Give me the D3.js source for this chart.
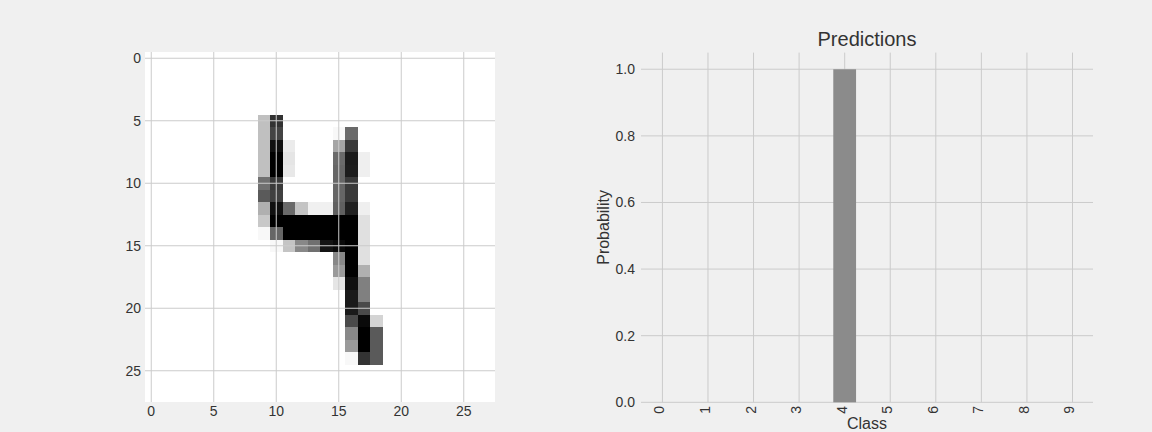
<!DOCTYPE html>
<html>
<head>
<meta charset="utf-8">
<script src="https://cdn.jsdelivr.net/npm/d3@7"></script>
<style>
  html, body { margin: 0; padding: 0; background: #f0f0f0; }
  svg { display: block; font-family: "Liberation Sans", Arial, sans-serif; }
</style>
</head>
<body>
<svg id="chart" width="1152" height="432"></svg>
<script>
// ---- data ----
// digit image: [row, col, ink 0..255] (ink 255 = black, gray_r colormap)
const digitPixels = [
  [5,9,63],[5,10,205],
  [6,9,63],[6,10,187],[6,15,7],[6,16,149],
  [7,9,63],[7,10,239],[7,11,20],[7,15,90],[7,16,197],
  [8,9,63],[8,10,255],[8,11,26],[8,15,149],[8,16,229],[8,17,16],
  [9,9,63],[9,10,255],[9,11,23],[9,15,153],[9,16,227],[9,17,16],
  [10,9,143],[10,10,197],[10,15,153],[10,16,197],
  [11,9,165],[11,10,191],[11,15,153],[11,16,197],
  [12,9,79],[12,10,239],[12,11,149],[12,12,59],[12,13,15],[12,14,15],[12,15,159],[12,16,223],[12,17,16],
  [13,9,55],[13,10,255],[13,11,255],[13,12,255],[13,13,255],[13,14,255],[13,15,255],[13,16,255],[13,17,31],
  [14,9,7],[14,10,153],[14,11,255],[14,12,255],[14,13,255],[14,14,255],[14,15,255],[14,16,255],[14,17,31],
  [15,10,7],[15,11,59],[15,12,119],[15,13,143],[15,14,235],[15,15,245],[15,16,255],[15,17,31],
  [16,15,119],[16,16,255],[16,17,31],
  [17,15,101],[17,16,255],[17,17,79],
  [18,15,26],[18,16,239],[18,17,127],
  [19,16,229],[19,17,127],
  [20,16,229],[20,17,181],
  [21,16,181],[21,17,245],[21,18,43],
  [22,16,119],[22,17,255],[22,18,165],
  [23,16,101],[23,17,255],[23,18,165],
  [24,16,7],[24,17,204],[24,18,165]
];
const imageSize = 28;
const imageTicks = [0, 5, 10, 15, 20, 25];

const classes = ["0","1","2","3","4","5","6","7","8","9"];
const probabilities = [0, 0, 0, 0, 1.0, 0, 0, 0, 0, 0];
const probTicks = [0.0, 0.2, 0.4, 0.6, 0.8, 1.0];
const chartTitle = "Predictions";
const xLabel = "Class";
const yLabel = "Probability";

// ---- drawing ----
const svg = d3.select("#chart");
const gridColor = "#cbcbcb";
const textColor = "#333333";

// Left: image panel
const ix = d3.scaleLinear().domain([-0.5, imageSize - 0.5]).range([145, 495]);
const iy = d3.scaleLinear().domain([-0.5, imageSize - 0.5]).range([52, 402]);
const img = svg.append("g");
img.append("rect")
  .attr("x", ix(-0.5)).attr("y", iy(-0.5))
  .attr("width", ix(imageSize - 0.5) - ix(-0.5))
  .attr("height", iy(imageSize - 0.5) - iy(-0.5))
  .attr("fill", "#ffffff");
img.selectAll("rect.px").data(digitPixels).join("rect")
  .attr("class", "px")
  .attr("x", d => ix(d[1] - 0.5))
  .attr("y", d => iy(d[0] - 0.5))
  .attr("width", ix(1) - ix(0) + 0.3)
  .attr("height", iy(1) - iy(0) + 0.3)
  .attr("fill", d => { const v = 255 - d[2]; return `rgb(${v},${v},${v})`; })
  .attr("shape-rendering", "crispEdges");
// grid over image
img.selectAll("line.vg").data(imageTicks).join("line")
  .attr("x1", d => ix(d)).attr("x2", d => ix(d))
  .attr("y1", iy(-0.5)).attr("y2", iy(imageSize - 0.5))
  .attr("stroke", gridColor).attr("stroke-width", 1);
img.selectAll("line.hg").data(imageTicks).join("line")
  .attr("y1", d => iy(d)).attr("y2", d => iy(d))
  .attr("x1", ix(-0.5)).attr("x2", ix(imageSize - 0.5))
  .attr("stroke", gridColor).attr("stroke-width", 1);
// tick labels
img.selectAll("text.xt").data(imageTicks).join("text")
  .attr("x", d => ix(d)).attr("y", 416)
  .attr("text-anchor", "middle").attr("font-size", 14).attr("fill", textColor)
  .text(d => d);
img.selectAll("text.yt").data(imageTicks).join("text")
  .attr("x", 141).attr("y", d => iy(d) + 5)
  .attr("text-anchor", "end").attr("font-size", 14).attr("fill", textColor)
  .text(d => d);

// Right: bar chart
const bx = d3.scaleLinear().domain([-0.47, 9.45]).range([641, 1093]);
const by = d3.scaleLinear().domain([0, 1.05]).range([402.3, 52.6]);
const bar = svg.append("g");
bar.selectAll("line.vg").data(classes).join("line")
  .attr("x1", (d, i) => bx(i)).attr("x2", (d, i) => bx(i))
  .attr("y1", by(0)).attr("y2", by(1.05))
  .attr("stroke", gridColor).attr("stroke-width", 1);
bar.selectAll("line.hg").data(probTicks).join("line")
  .attr("y1", d => by(d)).attr("y2", d => by(d))
  .attr("x1", bx(-0.47)).attr("x2", bx(9.45))
  .attr("stroke", gridColor).attr("stroke-width", 1);
const barWidth = 0.5;
bar.selectAll("rect.bar").data(probabilities).join("rect")
  .attr("class", "bar")
  .attr("x", (d, i) => bx(i - barWidth / 2))
  .attr("width", (d, i) => bx(i + barWidth / 2) - bx(i - barWidth / 2))
  .attr("y", d => by(d))
  .attr("height", d => by(0) - by(d))
  .attr("fill", "#8b8b8b");
bar.selectAll("text.yt").data(probTicks).join("text")
  .attr("x", 635).attr("y", d => by(d) + 5)
  .attr("text-anchor", "end").attr("font-size", 14).attr("fill", textColor)
  .text(d => d.toFixed(1));
bar.selectAll("text.xt").data(classes).join("text")
  .attr("transform", (d, i) => `translate(${bx(i) + 2},${406}) rotate(-90)`)
  .attr("text-anchor", "end").attr("font-size", 14).attr("fill", textColor)
  .text(d => d);
bar.append("text")
  .attr("x", (bx(-0.47) + bx(9.45)) / 2).attr("y", 429)
  .attr("text-anchor", "middle").attr("font-size", 16).attr("fill", textColor)
  .text(xLabel);
bar.append("text")
  .attr("transform", `translate(609,${(by(0) + by(1.05)) / 2}) rotate(-90)`)
  .attr("text-anchor", "middle").attr("font-size", 16).attr("fill", textColor)
  .text(yLabel);
bar.append("text")
  .attr("x", (bx(-0.47) + bx(9.45)) / 2).attr("y", 46)
  .attr("text-anchor", "middle").attr("font-size", 20).attr("fill", textColor)
  .text(chartTitle);
</script>
</body>
</html>
